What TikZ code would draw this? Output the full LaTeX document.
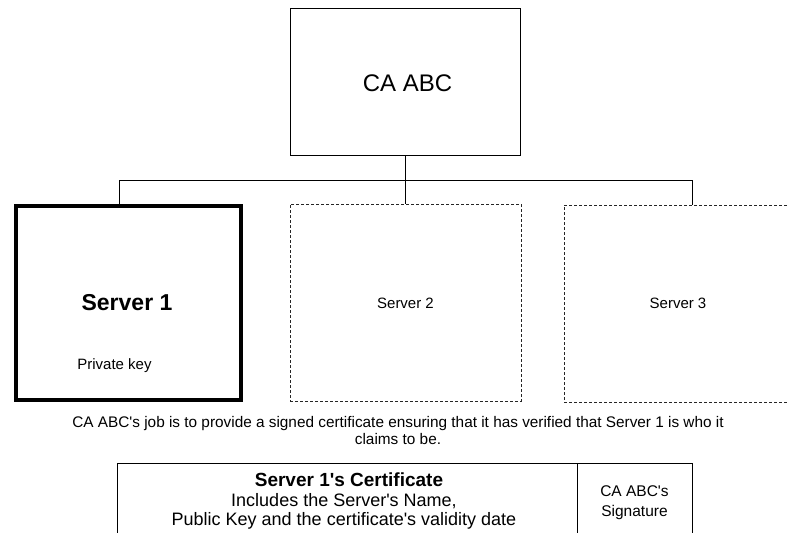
\documentclass[tikz,border=0pt]{standalone}
\usepackage{fontspec}
\setmainfont{Liberation Sans}
\newcommand{\aq}{\textquotesingle}
\begin{document}
\begin{tikzpicture}[x=1pt,y=-1pt,
  box/.style={draw=black,line width=0.8pt,rectangle,inner sep=0pt},
  thickbox/.style={draw=black,line width=4pt,rectangle,inner sep=0pt},
  dbox/.style={draw=black!85,line width=0.8pt,dash pattern=on 3pt off 2pt,rectangle,inner sep=0pt},
  conn/.style={draw=black,line width=0.8pt},
  txt/.style={inner sep=0pt,align=center}
]
\useasboundingbox (0,0) rectangle (788,533);
\begin{scope}
\clip (0,0) rectangle (788,533);
% CA box
\node[box,minimum width=230pt,minimum height=147pt] (ca) at (405.5,81.5) {};
\node[txt,font=\fontsize{24}{28}\selectfont] (catxt) at (407.5,83) {CA ABC};
% servers
\node[thickbox,minimum width=225pt,minimum height=194pt] (s1) at (128.5,303) {};
\node[dbox,minimum width=231pt,minimum height=197pt] (s2) at (405.5,302.5) {};
\node[dbox,minimum width=228pt,minimum height=197pt] (s3) at (678,303.5) {};
\node[txt,font=\fontsize{23}{27}\selectfont\bfseries] (s1t) at (127,303) {Server 1};
\node[txt,font=\fontsize{15}{18}\selectfont] (pk) at (114.5,366) {Private key};
\node[txt,font=\fontsize{15}{18}\selectfont] (s2t) at (405.5,303) {Server 2};
\node[txt,font=\fontsize{15}{18}\selectfont] (s3t) at (678,303) {Server 3};
% connectors
\coordinate (b1) at (119,180);
\coordinate (b3) at (692,180);
\draw[conn] (ca.south) -- (s2.north);
\draw[conn] (b1 |- s1.north) -- (b1) -- (b3) -- (b3 |- s3.north);
% caption
\node[txt,font=\fontsize{15.35}{17.5}\selectfont] (cap) at (398,430.5)
  {CA ABC\aq s job is to provide a signed certificate ensuring that it has verified that Server 1 is who it\\claims to be.};
% certificate
\node[box,minimum width=460pt,minimum height=90pt] (cert) at (347,508) {};
\node[box,minimum width=115pt,minimum height=90pt] (sig) at (634.5,508) {};
\node[txt,font=\fontsize{18}{19.5}\selectfont] (certt) at (344,501)
  {\hspace*{10pt}{\fontsize{19}{19.5}\selectfont\bfseries Server 1\aq s Certificate}\\Includes the Server\aq s Name,\\Public Key and the certificate\aq s validity date};
\node[txt,font=\fontsize{15.5}{20}\selectfont] (sigt) at (634.5,503) {CA ABC\aq s\\Signature};
\end{scope}
\end{tikzpicture}
\end{document}
